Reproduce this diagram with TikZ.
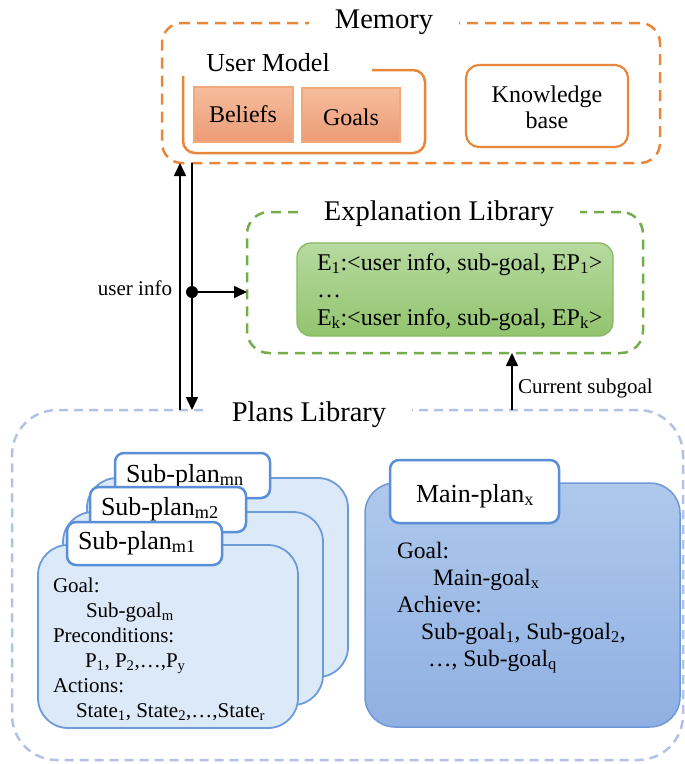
\documentclass[tikz,border=0pt]{standalone}
\usepackage{fontspec}
\setmainfont{Liberation Serif}
\usetikzlibrary{arrows.meta}

\definecolor{memline}{HTML}{E8873A}
\definecolor{cellline}{HTML}{F0A77A}
\definecolor{celltop}{HTML}{F6BD9E}
\definecolor{cellbot}{HTML}{EC9B75}
\definecolor{explline}{HTML}{74AE4A}
\definecolor{eptop}{HTML}{B7DAA0}
\definecolor{epbot}{HTML}{92C46E}
\definecolor{epline}{HTML}{86BA60}
\definecolor{planline}{HTML}{B3C1E8}
\definecolor{subfill}{HTML}{DCE9F8}
\definecolor{subline}{HTML}{6D9BD8}
\definecolor{tabline}{HTML}{5A8ED8}
\definecolor{maintop}{HTML}{AFC8EC}
\definecolor{mainbot}{HTML}{8FB0E2}
\definecolor{mainline}{HTML}{6E98D8}

\newcommand{\fsz}[1]{\fontsize{#1}{1.15\dimexpr#1\relax}\selectfont}

\begin{document}
\begin{tikzpicture}[x=1pt,y=-1pt,
  every node/.style={inner sep=0pt, outer sep=0pt},
  arr/.style={line width=1.6pt, -{Triangle[length=13pt,width=12pt]}},
  title/.style={anchor=base, fill=white, inner xsep=26pt, inner ysep=3pt, font=\fsz{28.5pt}},
  memframe/.style={draw=memline, line width=2.5pt, dash pattern=on 11pt off 7pt, rounded corners=20pt},
  cell/.style={draw=cellline, line width=1.5pt, top color=celltop, bottom color=cellbot},
  explframe/.style={draw=explline, line width=2.5pt, dash pattern=on 10pt off 7pt, rounded corners=22pt},
  epbox/.style={draw=epline, line width=1.3pt, top color=eptop, bottom color=epbot, rounded corners=14pt},
  planframe/.style={draw=planline, line width=2.5pt, dash pattern=on 9pt off 6pt, rounded corners=45pt},
  subcard/.style={draw=subline, line width=1.8pt, fill=subfill, rounded corners=30pt},
  tabbox/.style={draw=tabline, line width=2.5pt, fill=white, rounded corners=9pt},
  maincard/.style={draw=mainline, line width=1.5pt, top color=maintop, bottom color=mainbot, rounded corners=30pt},
  lbl/.style={anchor=base, font=\fsz{24pt}},
  ]
\useasboundingbox (0,0) rectangle (685,764);

% ---------------- Memory ----------------
\node[memframe, minimum width=498pt, minimum height=140pt] (memory) at (411,93) {};
\node[title] at (384,28) {Memory};

% user model frame, open at the top left where its label sits
\draw[memline, line width=2.5pt, rounded corners=12pt]
  (372,70) -- (425,70) -- (425,153) -- (183,153) -- (183,76);
\node[anchor=base, font=\fsz{26pt}] at (268,71) {User Model};
\node[cell, minimum width=99pt, minimum height=55pt] (beliefs) at (243.5,114.5) {};
\node[cell, minimum width=98pt, minimum height=54pt] (goals) at (351,115) {};
\node[lbl] at (243,122) {Beliefs};
\node[lbl] at (351,125) {Goals};

\node[draw=memline, line width=2.2pt, rounded corners=13pt,
      minimum width=162pt, minimum height=82pt] (kb) at (547,106) {};
% the base anchor of a multi-line node is the baseline of its last line
\node[lbl, align=center, font={\fontsize{24pt}{26pt}\selectfont}] at (547,128) {Knowledge\\base};

% ---------------- Explanation library ----------------
\node[explframe, minimum width=396pt, minimum height=141pt] (expl) at (445,282.5) {};
\node[title] at (439,220) {Explanation Library};
\node[epbox, minimum width=316pt, minimum height=93pt] (ep) at (455,289.5) {};
\node[anchor=base west, font=\fsz{24pt}] at (317,270)
  {E\textsubscript{1}:<user info, sub-goal, EP\textsubscript{1}>};
\node[anchor=base west, font=\fsz{24pt}] at (317,297) {…};
\node[anchor=base west, font=\fsz{24pt}] at (317,325)
  {E\textsubscript{k}:<user info, sub-goal, EP\textsubscript{k}>};

% ---------------- Plans library ----------------
\node[planframe, minimum width=671pt, minimum height=350pt] (plans) at (347.5,585) {};
\node[title] at (309,421) {Plans Library};

% stacked sub-plan cards, back to front
\node[subcard, minimum width=261pt, minimum height=199pt] (cardn) at (217.5,577.5) {};
\node[tabbox, minimum width=155pt, minimum height=45pt] (tabn) at (192.5,475.5) {};
\node[anchor=base west, font=\fsz{26pt}] at (126,482) {Sub-plan\textsubscript{mn}};

\node[subcard, minimum width=260pt, minimum height=193pt] (card2) at (193,608.5) {};
\node[tabbox, minimum width=156pt, minimum height=45pt] (tab2) at (168,509.5) {};
\node[anchor=base west, font=\fsz{26pt}] at (101,515) {Sub-plan\textsubscript{m2}};

\node[subcard, minimum width=260pt, minimum height=183pt] (card1) at (168,636.5) {};
\node[tabbox, minimum width=155pt, minimum height=43pt] (tab1) at (144.5,543.5) {};
\node[anchor=base west, font=\fsz{26pt}] at (78,549) {Sub-plan\textsubscript{m1}};

\node[anchor=base west, align=left, font={\fontsize{21pt}{25pt}\selectfont}] at (53,717)
  {Goal:\\
   \hspace*{33pt}Sub-goal\textsubscript{m}\\
   Preconditions:\\
   \hspace*{32pt}P\textsubscript{1}, P\textsubscript{2},…,P\textsubscript{y}\\
   Actions:\\
   \hspace*{23pt}State\textsubscript{1}, State\textsubscript{2},…,State\textsubscript{r}};

% main plan card
\node[maincard, minimum width=315pt, minimum height=244pt] (maincard) at (522.5,605) {};
\node[tabbox, minimum width=169pt, minimum height=63pt] (maintab) at (474.5,491.5) {};
\node[anchor=base, font=\fsz{26pt}] at (475,502) {Main-plan\textsubscript{x}};
\node[anchor=base west, align=left, font={\fontsize{23.5pt}{27pt}\selectfont}] at (397,666)
  {Goal:\\
   \hspace*{36pt}Main-goal\textsubscript{x}\\
   Achieve:\\
   \hspace*{24pt}Sub-goal\textsubscript{1}, Sub-goal\textsubscript{2},\\
   \hspace*{31pt}…, Sub-goal\textsubscript{q}};

% ---------------- Connectors ----------------
\coordinate (upx) at (180,0);
\coordinate (downx) at (192,0);
\coordinate (subx) at (512,0);
\draw[arr] (upx |- plans.north) -- (upx |- memory.south);
\draw[arr] (downx |- memory.south) -- (downx |- plans.north);
\node[circle, fill=black, minimum size=12pt] (dot) at (192,292) {};
\draw[arr] (dot) -- (expl.west |- dot);
\node[anchor=base east, font=\fsz{21pt}] (uinfo) at (172,295) {user info};
\draw[arr] (subx |- plans.north) -- (subx |- expl.south);
\node[anchor=base west, font=\fsz{21pt}] (cursub) at (518,393) {Current subgoal};
\end{tikzpicture}
\end{document}
